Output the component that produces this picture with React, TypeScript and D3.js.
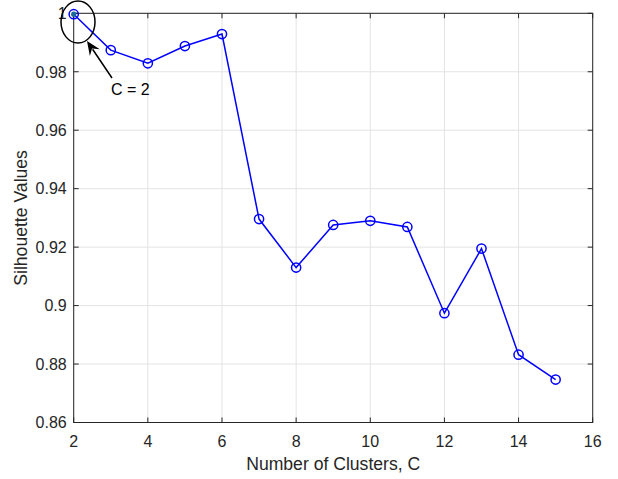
import React, { useEffect, useRef } from "react"
import * as d3 from "d3"

const clusters = [2, 3, 4, 5, 6, 7, 8, 9, 10, 11, 12, 13, 14, 15]
const silhouette = [0.9997, 0.9874, 0.9829, 0.9888, 0.9929, 0.9296, 0.913, 0.9276, 0.929, 0.9269, 0.8974, 0.9195, 0.8832, 0.8747]
const xTicks = [2, 4, 6, 8, 10, 12, 14, 16]
const yTicks = [0.86, 0.88, 0.9, 0.92, 0.94, 0.96, 0.98, 1]
const annotationText = "C = 2"

const W = 618, H = 479
const left = 73.7, right = 592.7, top = 13.3, bottom = 422.5
const font = "'Liberation Sans', Arial, Helvetica, sans-serif"
const ink = "#262626"

export default function App() {
  const ref = useRef<SVGSVGElement>(null)

  useEffect(() => {
    const svg = d3.select(ref.current)
    svg.selectAll("*").remove()

    const x = d3.scaleLinear().domain([2, 16]).range([left, right])
    const y = d3.scaleLinear().domain([0.86, 1]).range([bottom, top])

    // grid
    svg.append("g").selectAll("line").data(xTicks).join("line")
      .attr("x1", d => x(d)).attr("x2", d => x(d)).attr("y1", top).attr("y2", bottom)
      .attr("stroke", "#e3e3e3").attr("stroke-width", 1)
    svg.append("g").selectAll("line").data(yTicks).join("line")
      .attr("x1", left).attr("x2", right).attr("y1", d => y(d)).attr("y2", d => y(d))
      .attr("stroke", "#e3e3e3").attr("stroke-width", 1)

    // box + inward ticks
    svg.append("rect").attr("x", left).attr("y", top).attr("width", right - left).attr("height", bottom - top)
      .attr("fill", "none").attr("stroke", ink).attr("stroke-width", 1)
    const tl = 5
    const tk = svg.append("g").attr("stroke", ink).attr("stroke-width", 1)
    xTicks.forEach(d => {
      tk.append("line").attr("x1", x(d)).attr("x2", x(d)).attr("y1", bottom).attr("y2", bottom - tl)
      tk.append("line").attr("x1", x(d)).attr("x2", x(d)).attr("y1", top).attr("y2", top + tl)
    })
    yTicks.forEach(d => {
      tk.append("line").attr("x1", left).attr("x2", left + tl).attr("y1", y(d)).attr("y2", y(d))
      tk.append("line").attr("x1", right).attr("x2", right - tl).attr("y1", y(d)).attr("y2", y(d))
    })

    // tick labels
    svg.append("g").selectAll("text").data(xTicks).join("text")
      .attr("x", d => x(d)).attr("y", bottom + 24.5).attr("text-anchor", "middle")
      .attr("font-family", font).attr("font-size", 16).attr("fill", ink).text(d => d)
    svg.append("g").selectAll("text").data(yTicks).join("text")
      .attr("x", left - 7).attr("y", d => y(d) + 5.8).attr("text-anchor", "end")
      .attr("font-family", font).attr("font-size", 16).attr("fill", ink).text(d => d3.format("")(+d.toFixed(2)))

    // axis labels
    svg.append("text").attr("x", (left + right) / 2).attr("y", 469.5).attr("text-anchor", "middle")
      .attr("font-family", font).attr("font-size", 17.6).attr("fill", ink).text("Number of Clusters, C")
    svg.append("text").attr("transform", `translate(27, ${(top + bottom) / 2}) rotate(-90)`).attr("text-anchor", "middle")
      .attr("font-family", font).attr("font-size", 17.6).attr("fill", ink).text("Silhouette Values")

    // data line + markers
    const pts = clusters.map((c, i) => [c, silhouette[i]] as [number, number])
    svg.append("path").datum(pts)
      .attr("d", d3.line<[number, number]>().x(d => x(d[0])).y(d => y(d[1])))
      .attr("fill", "none").attr("stroke", "#0000ff").attr("stroke-width", 1.5)
    svg.append("g").selectAll("circle").data(pts).join("circle")
      .attr("cx", d => x(d[0])).attr("cy", d => y(d[1])).attr("r", 4.6)
      .attr("fill", "none").attr("stroke", "#0000ff").attr("stroke-width", 1.5)
    svg.append("circle").attr("cx", x(pts[0][0])).attr("cy", y(pts[0][1])).attr("r", 2.6).attr("fill", "#1b6a9c")

    // annotation: ellipse + arrow + text
    svg.append("ellipse").attr("cx", 78).attr("cy", 22).attr("rx", 17).attr("ry", 21)
      .attr("fill", "none").attr("stroke", "#000").attr("stroke-width", 1.5)
    const tip: [number, number] = [87, 41], tail: [number, number] = [112, 78]
    const ang = Math.atan2(tip[1] - tail[1], tip[0] - tail[0])
    const hl = 14, hw = 6
    const bx = tip[0] - hl * Math.cos(ang), by = tip[1] - hl * Math.sin(ang)
    const nx = -Math.sin(ang), ny = Math.cos(ang)
    svg.append("line").attr("x1", tail[0]).attr("y1", tail[1]).attr("x2", bx + 4 * Math.cos(ang)).attr("y2", by + 4 * Math.sin(ang))
      .attr("stroke", "#000").attr("stroke-width", 1.5)
    const notch = 9
    svg.append("path")
      .attr("d", `M${tip[0]},${tip[1]} L${bx + hw * nx},${by + hw * ny} L${tip[0] - notch * Math.cos(ang)},${tip[1] - notch * Math.sin(ang)} L${bx - hw * nx},${by - hw * ny} Z`)
      .attr("fill", "#000")
    svg.append("text").attr("x", 111).attr("y", 95).attr("font-family", font).attr("font-size", 16).attr("fill", "#000").text(annotationText)
  }, [])

  return (
    <svg ref={ref} width={W} height={H} style={{ position: "absolute", left: 0, top: 0, background: "#fff" }} />
  )
}
